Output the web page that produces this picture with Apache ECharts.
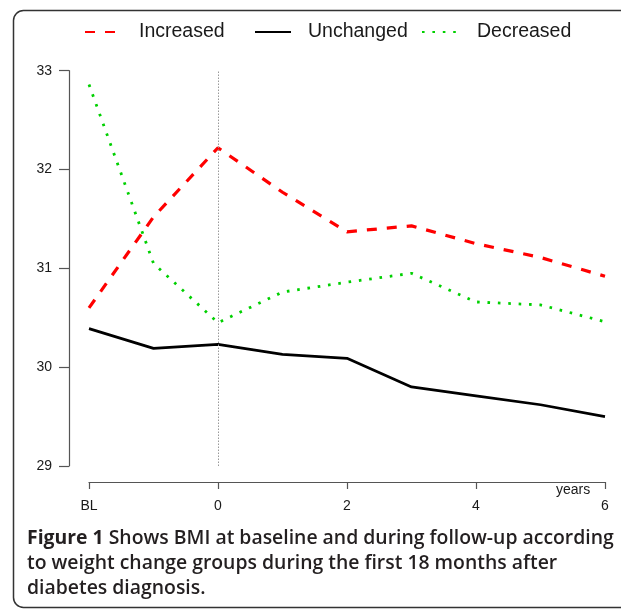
<!DOCTYPE html>
<html>
<head>
<meta charset="utf-8">
<script src="https://cdn.jsdelivr.net/npm/echarts@6/dist/echarts.min.js"></script>
<style>
html,body{margin:0;padding:0;background:#fff;}
#chart{width:621px;height:609px;}
</style>
</head>
<body>
<div id="chart"></div>
<script>
// Data
var xValues = [-2, -1, 0, 1, 2, 3, 4, 5, 6];
var increased = [30.60, 31.52, 32.22, 31.77, 31.37, 31.43, 31.25, 31.11, 30.92];
var unchanged = [30.39, 30.19, 30.23, 30.13, 30.09, 29.80, 29.71, 29.62, 29.50];
var decreased = [32.86, 31.05, 30.45, 30.76, 30.86, 30.95, 30.66, 30.63, 30.46];
var xTickLabels = {"-2": "BL", "0": "0", "2": "2", "4": "4", "6": "6"};
var yTicks = [29, 30, 31, 32, 33];
var seriesNames = ["Increased", "Unchanged", "Decreased"];
var captionLines = [
  ["Figure 1", " Shows BMI at baseline and during follow-up according"],
  ["", "to weight change groups during the first 18 months after"],
  ["", "diabetes diagnosis."]
];

function pairs(ys) { return xValues.map(function (x, i) { return [x, ys[i]]; }); }

var FONT = "Liberation Sans";
var chart = echarts.init(document.getElementById('chart'), null, {renderer: 'canvas'});

var legendBase = {
  orient: 'horizontal', padding: 0, itemHeight: 14, top: 21,
  itemStyle: {opacity: 0},
  textStyle: {fontFamily: FONT, fontSize: 19.5, color: '#1a1a1a', lineHeight: 22}
};
function legendFor(name, left, width, padLeft) {
  return Object.assign({}, legendBase, {
    data: [name], left: left, itemWidth: width,
    textStyle: Object.assign({}, legendBase.textStyle, {padding: [0, 0, 0, padLeft]})
  });
}

var captionGraphics = captionLines.map(function (ln, i) {
  return {
    type: 'text', left: 27, top: 529 + i * 25,
    style: {
      text: (ln[0] ? '{b|' + ln[0] + '}' : '') + '{n|' + ln[1] + '}',
      rich: {
        b: {fontFamily: 'Open Sans', fontWeight: 'bold', fontSize: 19.4, fill: '#231f20'},
        n: {fontFamily: 'Open Sans', fontWeight: 600, fontSize: 19.4, fill: '#231f20'}
      }
    }
  };
});

var option = {
  backgroundColor: '#fff',
  animation: false,
  legend: [
    legendFor(seriesNames[0], 84, 31, 18),
    legendFor(seriesNames[1], 254, 36, 12),
    legendFor(seriesNames[2], 421, 34, 16)
  ],
  grid: {left: 89, right: 16, top: 70.7, bottom: 143, containLabel: false},
  xAxis: {
    type: 'value', min: -2, max: 6, interval: 2, offset: 16,
    axisLine: {show: true, onZero: false, lineStyle: {color: '#555', width: 1.2}},
    axisTick: {show: true, length: 7, inside: false, lineStyle: {color: '#555', width: 1.2}},
    axisLabel: {
      margin: 17, fontFamily: FONT, fontSize: 14, color: '#1a1a1a',
      formatter: function (v) { return xTickLabels[String(v)] || ''; }
    },
    splitLine: {show: false}
  },
  yAxis: {
    type: 'value', min: yTicks[0], max: yTicks[yTicks.length - 1], interval: 1, offset: 20,
    axisLine: {show: true, onZero: false, lineStyle: {color: '#555', width: 1.2}},
    axisTick: {show: true, length: 10, inside: false, lineStyle: {color: '#555', width: 1.2}},
    axisLabel: {margin: 17, fontFamily: FONT, fontSize: 14, color: '#1a1a1a'},
    splitLine: {show: false}
  },
  series: [
    {
      name: seriesNames[0], type: 'line', data: pairs(increased), symbol: 'none',
      lineStyle: {color: '#ff0000', width: 3.2, type: [10, 10], cap: 'butt'},
      itemStyle: {color: '#ff0000'},
      markLine: {
        silent: true, symbol: 'none', label: {show: false},
        lineStyle: {color: '#999', width: 1, type: [1.5, 1.5]},
        data: [{xAxis: 0}]
      },
      z: 3
    },
    {
      name: seriesNames[1], type: 'line', data: pairs(unchanged), symbol: 'none',
      lineStyle: {color: '#000000', width: 2.7, type: 'solid'},
      itemStyle: {color: '#000000'}, z: 3
    },
    {
      name: seriesNames[2], type: 'line', data: pairs(decreased), symbol: 'none',
      lineStyle: {color: '#00d000', width: 2.8, type: [2.6, 7.8], cap: 'butt'},
      itemStyle: {color: '#00d000'}, z: 3
    }
  ],
  graphic: [
    {
      type: 'rect', left: 11, top: 8, z: -1,
      shape: {width: 700, height: 597, r: 10},
      style: {fill: 'none', stroke: '#333', lineWidth: 1.5}
    },
    {
      type: 'text', left: 556, top: 483,
      style: {text: 'years', fontFamily: FONT, fontSize: 14, fill: '#1a1a1a'}
    }
  ].concat(captionGraphics)
};
chart.setOption(option);
</script>
</body>
</html>
